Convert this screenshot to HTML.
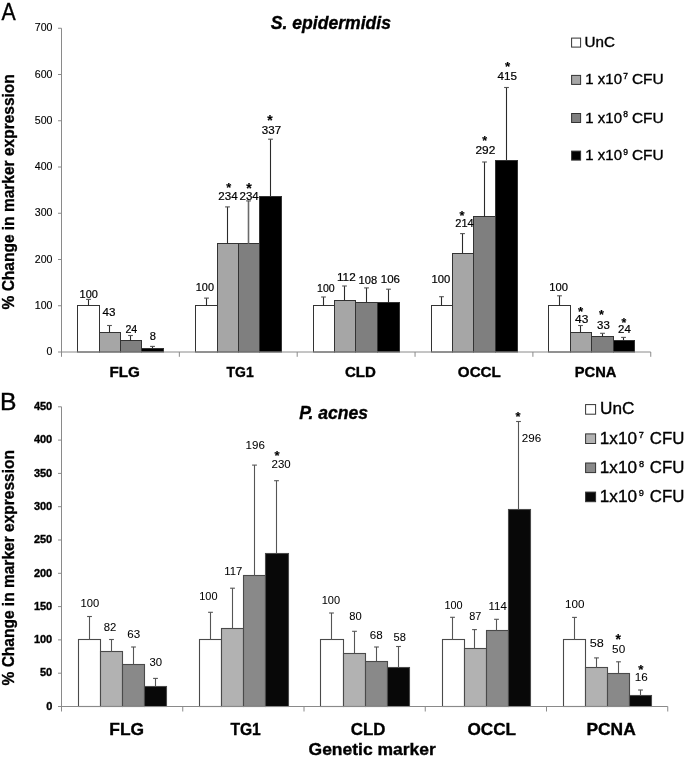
<!DOCTYPE html>
<html><head><meta charset="utf-8"><style>
html,body{margin:0;padding:0;background:#fff;}
svg{display:block;filter:grayscale(1);}
text{font-family:"Liberation Sans", sans-serif;stroke:#000;}
</style></head><body>
<svg width="685" height="760" viewBox="0 0 685 760" shape-rendering="auto" stroke-width="0.35">
<rect width="685" height="760" fill="#fff"/>
<rect x="77.50" y="305.50" width="22.00" height="46.50" fill="#ffffff" stroke="#333" stroke-width="1"/>
<rect x="99.50" y="332.50" width="21.00" height="19.50" fill="#a6a6a6" stroke="#333" stroke-width="1"/>
<rect x="120.50" y="340.50" width="21.00" height="11.50" fill="#7f7f7f" stroke="#333" stroke-width="1"/>
<rect x="141.50" y="348.50" width="22.00" height="3.50" fill="#000000" stroke="#333" stroke-width="1"/>
<rect x="195.50" y="305.50" width="22.00" height="46.50" fill="#ffffff" stroke="#333" stroke-width="1"/>
<rect x="217.50" y="243.50" width="21.00" height="108.50" fill="#a6a6a6" stroke="#333" stroke-width="1"/>
<rect x="238.50" y="243.50" width="21.00" height="108.50" fill="#7f7f7f" stroke="#333" stroke-width="1"/>
<rect x="259.50" y="196.50" width="22.00" height="155.50" fill="#000000" stroke="#333" stroke-width="1"/>
<rect x="313.50" y="305.50" width="21.00" height="46.50" fill="#ffffff" stroke="#333" stroke-width="1"/>
<rect x="334.50" y="300.50" width="21.00" height="51.50" fill="#a6a6a6" stroke="#333" stroke-width="1"/>
<rect x="355.50" y="302.50" width="22.00" height="49.50" fill="#7f7f7f" stroke="#333" stroke-width="1"/>
<rect x="377.50" y="302.50" width="22.00" height="49.50" fill="#000000" stroke="#333" stroke-width="1"/>
<rect x="431.50" y="305.50" width="21.00" height="46.50" fill="#ffffff" stroke="#333" stroke-width="1"/>
<rect x="452.50" y="253.50" width="21.00" height="98.50" fill="#a6a6a6" stroke="#333" stroke-width="1"/>
<rect x="473.50" y="216.50" width="22.00" height="135.50" fill="#7f7f7f" stroke="#333" stroke-width="1"/>
<rect x="495.50" y="160.50" width="22.00" height="191.50" fill="#000000" stroke="#333" stroke-width="1"/>
<rect x="548.50" y="305.50" width="22.00" height="46.50" fill="#ffffff" stroke="#333" stroke-width="1"/>
<rect x="570.50" y="332.50" width="21.00" height="19.50" fill="#a6a6a6" stroke="#333" stroke-width="1"/>
<rect x="591.50" y="336.50" width="22.00" height="15.50" fill="#7f7f7f" stroke="#333" stroke-width="1"/>
<rect x="613.50" y="340.50" width="21.00" height="11.50" fill="#000000" stroke="#333" stroke-width="1"/>
<line x1="88.50" y1="305.75" x2="88.50" y2="299.40" stroke="#2a2a2a" stroke-width="1.1"/>
<line x1="86.10" y1="299.40" x2="90.90" y2="299.40" stroke="#555" stroke-width="1.1"/>
<line x1="109.50" y1="332.11" x2="109.50" y2="325.50" stroke="#2a2a2a" stroke-width="1.1"/>
<line x1="107.10" y1="325.50" x2="111.90" y2="325.50" stroke="#555" stroke-width="1.1"/>
<line x1="130.50" y1="340.90" x2="130.50" y2="335.50" stroke="#2a2a2a" stroke-width="1.1"/>
<line x1="128.10" y1="335.50" x2="132.90" y2="335.50" stroke="#555" stroke-width="1.1"/>
<line x1="152.50" y1="348.30" x2="152.50" y2="346.40" stroke="#2a2a2a" stroke-width="1.1"/>
<line x1="150.10" y1="346.40" x2="154.90" y2="346.40" stroke="#555" stroke-width="1.1"/>
<line x1="206.50" y1="305.75" x2="206.50" y2="298.10" stroke="#2a2a2a" stroke-width="1.1"/>
<line x1="204.10" y1="298.10" x2="208.90" y2="298.10" stroke="#555" stroke-width="1.1"/>
<line x1="227.50" y1="243.77" x2="227.50" y2="206.90" stroke="#2a2a2a" stroke-width="1.1"/>
<line x1="225.10" y1="206.90" x2="229.90" y2="206.90" stroke="#555" stroke-width="1.1"/>
<line x1="248.50" y1="243.77" x2="248.50" y2="200.90" stroke="#6a6a6a" stroke-width="1.6"/>
<line x1="246.10" y1="200.90" x2="250.90" y2="200.90" stroke="#555" stroke-width="1.1"/>
<line x1="270.50" y1="196.14" x2="270.50" y2="139.20" stroke="#2a2a2a" stroke-width="1.1"/>
<line x1="268.10" y1="139.20" x2="272.90" y2="139.20" stroke="#555" stroke-width="1.1"/>
<line x1="323.50" y1="305.75" x2="323.50" y2="297.00" stroke="#2a2a2a" stroke-width="1.1"/>
<line x1="321.10" y1="297.00" x2="325.90" y2="297.00" stroke="#555" stroke-width="1.1"/>
<line x1="344.50" y1="300.20" x2="344.50" y2="286.00" stroke="#2a2a2a" stroke-width="1.1"/>
<line x1="342.10" y1="286.00" x2="346.90" y2="286.00" stroke="#555" stroke-width="1.1"/>
<line x1="366.50" y1="302.05" x2="366.50" y2="287.90" stroke="#2a2a2a" stroke-width="1.1"/>
<line x1="364.10" y1="287.90" x2="368.90" y2="287.90" stroke="#555" stroke-width="1.1"/>
<line x1="388.50" y1="302.98" x2="388.50" y2="289.20" stroke="#2a2a2a" stroke-width="1.1"/>
<line x1="386.10" y1="289.20" x2="390.90" y2="289.20" stroke="#555" stroke-width="1.1"/>
<line x1="441.50" y1="305.75" x2="441.50" y2="296.70" stroke="#2a2a2a" stroke-width="1.1"/>
<line x1="439.10" y1="296.70" x2="443.90" y2="296.70" stroke="#555" stroke-width="1.1"/>
<line x1="462.50" y1="253.02" x2="462.50" y2="233.60" stroke="#2a2a2a" stroke-width="1.1"/>
<line x1="460.10" y1="233.60" x2="464.90" y2="233.60" stroke="#555" stroke-width="1.1"/>
<line x1="484.50" y1="216.95" x2="484.50" y2="162.00" stroke="#2a2a2a" stroke-width="1.1"/>
<line x1="482.10" y1="162.00" x2="486.90" y2="162.00" stroke="#555" stroke-width="1.1"/>
<line x1="506.50" y1="160.06" x2="506.50" y2="87.50" stroke="#2a2a2a" stroke-width="1.1"/>
<line x1="504.10" y1="87.50" x2="508.90" y2="87.50" stroke="#555" stroke-width="1.1"/>
<line x1="559.50" y1="305.75" x2="559.50" y2="295.80" stroke="#2a2a2a" stroke-width="1.1"/>
<line x1="557.10" y1="295.80" x2="561.90" y2="295.80" stroke="#555" stroke-width="1.1"/>
<line x1="580.50" y1="332.11" x2="580.50" y2="325.50" stroke="#2a2a2a" stroke-width="1.1"/>
<line x1="578.10" y1="325.50" x2="582.90" y2="325.50" stroke="#555" stroke-width="1.1"/>
<line x1="602.50" y1="336.74" x2="602.50" y2="333.30" stroke="#2a2a2a" stroke-width="1.1"/>
<line x1="600.10" y1="333.30" x2="604.90" y2="333.30" stroke="#555" stroke-width="1.1"/>
<line x1="623.50" y1="340.90" x2="623.50" y2="337.40" stroke="#2a2a2a" stroke-width="1.1"/>
<line x1="621.10" y1="337.40" x2="625.90" y2="337.40" stroke="#555" stroke-width="1.1"/>
<rect x="78.50" y="639.50" width="22.00" height="67.00" fill="#ffffff" stroke="#4a4a4a" stroke-width="1.1"/>
<rect x="100.50" y="651.50" width="22.00" height="55.00" fill="#b2b2b2" stroke="#4a4a4a" stroke-width="1.1"/>
<rect x="122.50" y="664.50" width="22.00" height="42.00" fill="#898989" stroke="#4a4a4a" stroke-width="1.1"/>
<rect x="144.50" y="686.50" width="22.00" height="20.00" fill="#080808" stroke="#4a4a4a" stroke-width="1.1"/>
<rect x="199.50" y="639.50" width="22.00" height="67.00" fill="#ffffff" stroke="#4a4a4a" stroke-width="1.1"/>
<rect x="221.50" y="628.50" width="22.00" height="78.00" fill="#b2b2b2" stroke="#4a4a4a" stroke-width="1.1"/>
<rect x="243.50" y="575.50" width="22.00" height="131.00" fill="#898989" stroke="#4a4a4a" stroke-width="1.1"/>
<rect x="265.50" y="553.50" width="23.00" height="153.00" fill="#080808" stroke="#4a4a4a" stroke-width="1.1"/>
<rect x="320.50" y="639.50" width="23.00" height="67.00" fill="#ffffff" stroke="#4a4a4a" stroke-width="1.1"/>
<rect x="343.50" y="653.50" width="22.00" height="53.00" fill="#b2b2b2" stroke="#4a4a4a" stroke-width="1.1"/>
<rect x="365.50" y="661.50" width="22.00" height="45.00" fill="#898989" stroke="#4a4a4a" stroke-width="1.1"/>
<rect x="387.50" y="667.50" width="22.00" height="39.00" fill="#080808" stroke="#4a4a4a" stroke-width="1.1"/>
<rect x="442.50" y="639.50" width="22.00" height="67.00" fill="#ffffff" stroke="#4a4a4a" stroke-width="1.1"/>
<rect x="464.50" y="648.50" width="22.00" height="58.00" fill="#b2b2b2" stroke="#4a4a4a" stroke-width="1.1"/>
<rect x="486.50" y="630.50" width="22.00" height="76.00" fill="#898989" stroke="#4a4a4a" stroke-width="1.1"/>
<rect x="508.50" y="509.50" width="22.00" height="197.00" fill="#080808" stroke="#4a4a4a" stroke-width="1.1"/>
<rect x="563.50" y="639.50" width="22.00" height="67.00" fill="#ffffff" stroke="#4a4a4a" stroke-width="1.1"/>
<rect x="585.50" y="667.50" width="22.00" height="39.00" fill="#b2b2b2" stroke="#4a4a4a" stroke-width="1.1"/>
<rect x="607.50" y="673.50" width="22.00" height="33.00" fill="#898989" stroke="#4a4a4a" stroke-width="1.1"/>
<rect x="629.50" y="695.50" width="22.00" height="11.00" fill="#080808" stroke="#4a4a4a" stroke-width="1.1"/>
<line x1="89.50" y1="639.90" x2="89.50" y2="616.50" stroke="#555" stroke-width="1.1"/>
<line x1="87.10" y1="616.50" x2="91.90" y2="616.50" stroke="#555" stroke-width="1.1"/>
<line x1="111.50" y1="651.89" x2="111.50" y2="639.50" stroke="#555" stroke-width="1.1"/>
<line x1="109.10" y1="639.50" x2="113.90" y2="639.50" stroke="#555" stroke-width="1.1"/>
<line x1="133.50" y1="664.54" x2="133.50" y2="647.00" stroke="#555" stroke-width="1.1"/>
<line x1="131.10" y1="647.00" x2="135.90" y2="647.00" stroke="#555" stroke-width="1.1"/>
<line x1="155.50" y1="686.52" x2="155.50" y2="678.40" stroke="#555" stroke-width="1.1"/>
<line x1="153.10" y1="678.40" x2="157.90" y2="678.40" stroke="#555" stroke-width="1.1"/>
<line x1="210.50" y1="639.90" x2="210.50" y2="612.30" stroke="#555" stroke-width="1.1"/>
<line x1="208.10" y1="612.30" x2="212.90" y2="612.30" stroke="#555" stroke-width="1.1"/>
<line x1="232.50" y1="628.58" x2="232.50" y2="588.20" stroke="#555" stroke-width="1.1"/>
<line x1="230.10" y1="588.20" x2="234.90" y2="588.20" stroke="#555" stroke-width="1.1"/>
<line x1="254.50" y1="575.96" x2="254.50" y2="465.10" stroke="#555" stroke-width="1.1"/>
<line x1="252.10" y1="465.10" x2="256.90" y2="465.10" stroke="#555" stroke-width="1.1"/>
<line x1="276.50" y1="553.32" x2="276.50" y2="480.70" stroke="#555" stroke-width="1.1"/>
<line x1="274.10" y1="480.70" x2="278.90" y2="480.70" stroke="#555" stroke-width="1.1"/>
<line x1="331.50" y1="639.90" x2="331.50" y2="613.00" stroke="#555" stroke-width="1.1"/>
<line x1="329.10" y1="613.00" x2="333.90" y2="613.00" stroke="#555" stroke-width="1.1"/>
<line x1="354.50" y1="653.22" x2="354.50" y2="631.30" stroke="#555" stroke-width="1.1"/>
<line x1="352.10" y1="631.30" x2="356.90" y2="631.30" stroke="#555" stroke-width="1.1"/>
<line x1="376.50" y1="661.21" x2="376.50" y2="647.00" stroke="#555" stroke-width="1.1"/>
<line x1="374.10" y1="647.00" x2="378.90" y2="647.00" stroke="#555" stroke-width="1.1"/>
<line x1="398.50" y1="667.87" x2="398.50" y2="646.50" stroke="#555" stroke-width="1.1"/>
<line x1="396.10" y1="646.50" x2="400.90" y2="646.50" stroke="#555" stroke-width="1.1"/>
<line x1="452.50" y1="639.90" x2="452.50" y2="617.30" stroke="#555" stroke-width="1.1"/>
<line x1="450.10" y1="617.30" x2="454.90" y2="617.30" stroke="#555" stroke-width="1.1"/>
<line x1="474.50" y1="648.56" x2="474.50" y2="629.60" stroke="#555" stroke-width="1.1"/>
<line x1="472.10" y1="629.60" x2="476.90" y2="629.60" stroke="#555" stroke-width="1.1"/>
<line x1="496.50" y1="630.58" x2="496.50" y2="619.30" stroke="#555" stroke-width="1.1"/>
<line x1="494.10" y1="619.30" x2="498.90" y2="619.30" stroke="#555" stroke-width="1.1"/>
<line x1="518.50" y1="509.36" x2="518.50" y2="421.50" stroke="#555" stroke-width="1.1"/>
<line x1="516.10" y1="421.50" x2="520.90" y2="421.50" stroke="#555" stroke-width="1.1"/>
<line x1="574.50" y1="639.90" x2="574.50" y2="617.40" stroke="#555" stroke-width="1.1"/>
<line x1="572.10" y1="617.40" x2="576.90" y2="617.40" stroke="#555" stroke-width="1.1"/>
<line x1="596.50" y1="667.87" x2="596.50" y2="657.90" stroke="#555" stroke-width="1.1"/>
<line x1="594.10" y1="657.90" x2="598.90" y2="657.90" stroke="#555" stroke-width="1.1"/>
<line x1="618.50" y1="673.20" x2="618.50" y2="661.80" stroke="#555" stroke-width="1.1"/>
<line x1="616.10" y1="661.80" x2="620.90" y2="661.80" stroke="#555" stroke-width="1.1"/>
<line x1="640.50" y1="695.84" x2="640.50" y2="690.00" stroke="#555" stroke-width="1.1"/>
<line x1="638.10" y1="690.00" x2="642.90" y2="690.00" stroke="#555" stroke-width="1.1"/>
<line x1="61.5" y1="28.25" x2="61.5" y2="356.80" stroke="#8a8a8a" stroke-width="1"/>
<line x1="61.5" y1="352.0" x2="650.75" y2="352.0" stroke="#8a8a8a" stroke-width="1"/>
<line x1="58.0" y1="352.00" x2="61.5" y2="352.00" stroke="#8a8a8a" stroke-width="1"/>
<line x1="58.0" y1="305.75" x2="61.5" y2="305.75" stroke="#8a8a8a" stroke-width="1"/>
<line x1="58.0" y1="259.50" x2="61.5" y2="259.50" stroke="#8a8a8a" stroke-width="1"/>
<line x1="58.0" y1="213.25" x2="61.5" y2="213.25" stroke="#8a8a8a" stroke-width="1"/>
<line x1="58.0" y1="167.00" x2="61.5" y2="167.00" stroke="#8a8a8a" stroke-width="1"/>
<line x1="58.0" y1="120.75" x2="61.5" y2="120.75" stroke="#8a8a8a" stroke-width="1"/>
<line x1="58.0" y1="74.50" x2="61.5" y2="74.50" stroke="#8a8a8a" stroke-width="1"/>
<line x1="58.0" y1="28.25" x2="61.5" y2="28.25" stroke="#8a8a8a" stroke-width="1"/>
<line x1="179.35" y1="352.0" x2="179.35" y2="356.80" stroke="#8a8a8a" stroke-width="1"/>
<line x1="297.20" y1="352.0" x2="297.20" y2="356.80" stroke="#8a8a8a" stroke-width="1"/>
<line x1="415.05" y1="352.0" x2="415.05" y2="356.80" stroke="#8a8a8a" stroke-width="1"/>
<line x1="532.90" y1="352.0" x2="532.90" y2="356.80" stroke="#8a8a8a" stroke-width="1"/>
<line x1="650.75" y1="352.0" x2="650.75" y2="356.80" stroke="#8a8a8a" stroke-width="1"/>
<line x1="61.5" y1="406.80" x2="61.5" y2="711.50" stroke="#8a8a8a" stroke-width="1"/>
<line x1="61.5" y1="706.5" x2="667.75" y2="706.5" stroke="#8a8a8a" stroke-width="1"/>
<line x1="58.0" y1="706.50" x2="61.5" y2="706.50" stroke="#8a8a8a" stroke-width="1"/>
<line x1="58.0" y1="673.20" x2="61.5" y2="673.20" stroke="#8a8a8a" stroke-width="1"/>
<line x1="58.0" y1="639.90" x2="61.5" y2="639.90" stroke="#8a8a8a" stroke-width="1"/>
<line x1="58.0" y1="606.60" x2="61.5" y2="606.60" stroke="#8a8a8a" stroke-width="1"/>
<line x1="58.0" y1="573.30" x2="61.5" y2="573.30" stroke="#8a8a8a" stroke-width="1"/>
<line x1="58.0" y1="540.00" x2="61.5" y2="540.00" stroke="#8a8a8a" stroke-width="1"/>
<line x1="58.0" y1="506.70" x2="61.5" y2="506.70" stroke="#8a8a8a" stroke-width="1"/>
<line x1="58.0" y1="473.40" x2="61.5" y2="473.40" stroke="#8a8a8a" stroke-width="1"/>
<line x1="58.0" y1="440.10" x2="61.5" y2="440.10" stroke="#8a8a8a" stroke-width="1"/>
<line x1="58.0" y1="406.80" x2="61.5" y2="406.80" stroke="#8a8a8a" stroke-width="1"/>
<line x1="182.75" y1="706.5" x2="182.75" y2="711.50" stroke="#8a8a8a" stroke-width="1"/>
<line x1="304.00" y1="706.5" x2="304.00" y2="711.50" stroke="#8a8a8a" stroke-width="1"/>
<line x1="425.25" y1="706.5" x2="425.25" y2="711.50" stroke="#8a8a8a" stroke-width="1"/>
<line x1="546.50" y1="706.5" x2="546.50" y2="711.50" stroke="#8a8a8a" stroke-width="1"/>
<line x1="667.75" y1="706.5" x2="667.75" y2="711.50" stroke="#8a8a8a" stroke-width="1"/>
<rect x="571.6" y="38.10" width="9" height="9" fill="#ffffff" stroke="#333" stroke-width="1"/>
<rect x="571.6" y="75.40" width="9" height="9" fill="#a6a6a6" stroke="#333" stroke-width="1"/>
<rect x="571.6" y="113.50" width="9" height="9" fill="#7f7f7f" stroke="#333" stroke-width="1"/>
<rect x="571.6" y="151.10" width="9" height="9" fill="#000000" stroke="#333" stroke-width="1"/>
<rect x="585.6" y="404.60" width="10" height="9.6" fill="#ffffff" stroke="#333" stroke-width="1"/>
<rect x="585.6" y="433.90" width="10" height="9.6" fill="#b2b2b2" stroke="#333" stroke-width="1"/>
<rect x="585.6" y="463.00" width="10" height="9.6" fill="#898989" stroke="#333" stroke-width="1"/>
<rect x="585.6" y="492.10" width="10" height="9.6" fill="#080808" stroke="#333" stroke-width="1"/>
<text x="1.40" y="20.40" font-size="23" font-weight="normal" font-style="normal" textLength="14.20" lengthAdjust="spacingAndGlyphs" fill="#000">A</text>
<text x="-0.03" y="410.00" font-size="23.5" font-weight="normal" font-style="normal" textLength="16.47" lengthAdjust="spacingAndGlyphs" fill="#000">B</text>
<text x="270.80" y="29.00" font-size="17.5" font-weight="bold" font-style="italic" textLength="120.24" lengthAdjust="spacingAndGlyphs" fill="#000">S. epidermidis</text>
<text x="299.13" y="419.20" font-size="17.5" font-weight="bold" font-style="italic" textLength="69.01" lengthAdjust="spacingAndGlyphs" fill="#000">P. acnes</text>
<text x="46.57" y="355.00" font-size="10.6" font-weight="normal" font-style="normal" textLength="5.90" lengthAdjust="spacingAndGlyphs" fill="#000" stroke-width="0.12">0</text>
<text x="34.78" y="308.75" font-size="10.6" font-weight="normal" font-style="normal" textLength="17.69" lengthAdjust="spacingAndGlyphs" fill="#000" stroke-width="0.12">100</text>
<text x="34.78" y="262.50" font-size="10.6" font-weight="normal" font-style="normal" textLength="17.69" lengthAdjust="spacingAndGlyphs" fill="#000" stroke-width="0.12">200</text>
<text x="34.78" y="216.25" font-size="10.6" font-weight="normal" font-style="normal" textLength="17.69" lengthAdjust="spacingAndGlyphs" fill="#000" stroke-width="0.12">300</text>
<text x="34.78" y="170.00" font-size="10.6" font-weight="normal" font-style="normal" textLength="17.69" lengthAdjust="spacingAndGlyphs" fill="#000" stroke-width="0.12">400</text>
<text x="34.78" y="123.75" font-size="10.6" font-weight="normal" font-style="normal" textLength="17.69" lengthAdjust="spacingAndGlyphs" fill="#000" stroke-width="0.12">500</text>
<text x="34.78" y="77.50" font-size="10.6" font-weight="normal" font-style="normal" textLength="17.69" lengthAdjust="spacingAndGlyphs" fill="#000" stroke-width="0.12">600</text>
<text x="34.78" y="31.25" font-size="10.6" font-weight="normal" font-style="normal" textLength="17.69" lengthAdjust="spacingAndGlyphs" fill="#000" stroke-width="0.12">700</text>
<text x="46.13" y="709.70" font-size="11" font-weight="bold" font-style="normal" textLength="6.12" lengthAdjust="spacingAndGlyphs" fill="#000">0</text>
<text x="40.01" y="676.40" font-size="11" font-weight="bold" font-style="normal" textLength="12.24" lengthAdjust="spacingAndGlyphs" fill="#000">50</text>
<text x="33.89" y="643.10" font-size="11" font-weight="bold" font-style="normal" textLength="18.35" lengthAdjust="spacingAndGlyphs" fill="#000">100</text>
<text x="33.89" y="609.80" font-size="11" font-weight="bold" font-style="normal" textLength="18.35" lengthAdjust="spacingAndGlyphs" fill="#000">150</text>
<text x="33.89" y="576.50" font-size="11" font-weight="bold" font-style="normal" textLength="18.35" lengthAdjust="spacingAndGlyphs" fill="#000">200</text>
<text x="33.89" y="543.20" font-size="11" font-weight="bold" font-style="normal" textLength="18.35" lengthAdjust="spacingAndGlyphs" fill="#000">250</text>
<text x="33.89" y="509.90" font-size="11" font-weight="bold" font-style="normal" textLength="18.35" lengthAdjust="spacingAndGlyphs" fill="#000">300</text>
<text x="33.89" y="476.60" font-size="11" font-weight="bold" font-style="normal" textLength="18.35" lengthAdjust="spacingAndGlyphs" fill="#000">350</text>
<text x="33.89" y="443.30" font-size="11" font-weight="bold" font-style="normal" textLength="18.35" lengthAdjust="spacingAndGlyphs" fill="#000">400</text>
<text x="33.89" y="410.00" font-size="11" font-weight="bold" font-style="normal" textLength="18.35" lengthAdjust="spacingAndGlyphs" fill="#000">450</text>
<text x="109.45" y="377.00" font-size="14.5" font-weight="bold" font-style="normal" textLength="30.45" lengthAdjust="spacingAndGlyphs" fill="#000">FLG</text>
<text x="226.50" y="377.00" font-size="14.5" font-weight="bold" font-style="normal" textLength="27.15" lengthAdjust="spacingAndGlyphs" fill="#000">TG1</text>
<text x="344.93" y="377.00" font-size="14.5" font-weight="bold" font-style="normal" textLength="30.89" lengthAdjust="spacingAndGlyphs" fill="#000">CLD</text>
<text x="457.83" y="377.00" font-size="14.5" font-weight="bold" font-style="normal" textLength="43.03" lengthAdjust="spacingAndGlyphs" fill="#000">OCCL</text>
<text x="574.78" y="377.00" font-size="14.5" font-weight="bold" font-style="normal" textLength="41.70" lengthAdjust="spacingAndGlyphs" fill="#000">PCNA</text>
<text x="109.32" y="734.70" font-size="16.5" font-weight="bold" font-style="normal" textLength="34.71" lengthAdjust="spacingAndGlyphs" fill="#000">FLG</text>
<text x="230.40" y="734.70" font-size="16.5" font-weight="bold" font-style="normal" textLength="30.39" lengthAdjust="spacingAndGlyphs" fill="#000">TG1</text>
<text x="350.87" y="734.70" font-size="16.5" font-weight="bold" font-style="normal" textLength="34.61" lengthAdjust="spacingAndGlyphs" fill="#000">CLD</text>
<text x="467.46" y="734.70" font-size="16.5" font-weight="bold" font-style="normal" textLength="48.63" lengthAdjust="spacingAndGlyphs" fill="#000">OCCL</text>
<text x="586.41" y="734.70" font-size="16.5" font-weight="bold" font-style="normal" textLength="49.32" lengthAdjust="spacingAndGlyphs" fill="#000">PCNA</text>
<text x="308.55" y="755.00" font-size="16.8" font-weight="bold" font-style="normal" textLength="127.29" lengthAdjust="spacingAndGlyphs" fill="#000">Genetic marker</text>
<text x="584.55" y="47.00" font-size="14.5" font-weight="normal" font-style="normal" textLength="30.38" lengthAdjust="spacingAndGlyphs" fill="#000">UnC</text>
<text x="585.36" y="84.40" font-size="14.5" font-weight="normal" font-style="normal" textLength="36.61" lengthAdjust="spacingAndGlyphs" fill="#000">1 x10</text>
<text x="623.20" y="79.10" font-size="8.5" font-weight="normal" font-style="normal" textLength="4.73" lengthAdjust="spacingAndGlyphs" fill="#000">7</text>
<text x="631.98" y="84.40" font-size="14.5" font-weight="normal" font-style="normal" textLength="31.64" lengthAdjust="spacingAndGlyphs" fill="#000">CFU</text>
<text x="585.36" y="122.70" font-size="14.5" font-weight="normal" font-style="normal" textLength="36.61" lengthAdjust="spacingAndGlyphs" fill="#000">1 x10</text>
<text x="623.33" y="117.40" font-size="8.5" font-weight="normal" font-style="normal" textLength="4.73" lengthAdjust="spacingAndGlyphs" fill="#000">8</text>
<text x="631.98" y="122.70" font-size="14.5" font-weight="normal" font-style="normal" textLength="31.64" lengthAdjust="spacingAndGlyphs" fill="#000">CFU</text>
<text x="585.36" y="160.30" font-size="14.5" font-weight="normal" font-style="normal" textLength="36.61" lengthAdjust="spacingAndGlyphs" fill="#000">1 x10</text>
<text x="623.20" y="155.00" font-size="8.5" font-weight="normal" font-style="normal" textLength="4.73" lengthAdjust="spacingAndGlyphs" fill="#000">9</text>
<text x="631.98" y="160.30" font-size="14.5" font-weight="normal" font-style="normal" textLength="31.64" lengthAdjust="spacingAndGlyphs" fill="#000">CFU</text>
<text x="600.13" y="414.40" font-size="16.8" font-weight="normal" font-style="normal" textLength="34.37" lengthAdjust="spacingAndGlyphs" fill="#000">UnC</text>
<text x="599.83" y="443.70" font-size="16.8" font-weight="normal" font-style="normal" textLength="37.20" lengthAdjust="spacingAndGlyphs" fill="#000">1x10</text>
<text x="638.87" y="437.60" font-size="9.2" font-weight="normal" font-style="normal" textLength="5.12" lengthAdjust="spacingAndGlyphs" fill="#000">7</text>
<text x="649.81" y="443.70" font-size="16.8" font-weight="normal" font-style="normal" textLength="34.53" lengthAdjust="spacingAndGlyphs" fill="#000">CFU</text>
<text x="599.83" y="472.80" font-size="16.8" font-weight="normal" font-style="normal" textLength="37.20" lengthAdjust="spacingAndGlyphs" fill="#000">1x10</text>
<text x="639.01" y="466.70" font-size="9.2" font-weight="normal" font-style="normal" textLength="5.12" lengthAdjust="spacingAndGlyphs" fill="#000">8</text>
<text x="649.81" y="472.80" font-size="16.8" font-weight="normal" font-style="normal" textLength="34.53" lengthAdjust="spacingAndGlyphs" fill="#000">CFU</text>
<text x="599.83" y="501.90" font-size="16.8" font-weight="normal" font-style="normal" textLength="37.20" lengthAdjust="spacingAndGlyphs" fill="#000">1x10</text>
<text x="638.87" y="495.80" font-size="9.2" font-weight="normal" font-style="normal" textLength="5.12" lengthAdjust="spacingAndGlyphs" fill="#000">9</text>
<text x="649.81" y="501.90" font-size="16.8" font-weight="normal" font-style="normal" textLength="34.53" lengthAdjust="spacingAndGlyphs" fill="#000">CFU</text>
<text x="79.62" y="297.50" font-size="11" font-weight="normal" font-style="normal" textLength="18.26" lengthAdjust="spacingAndGlyphs" fill="#000" stroke-width="0.2">100</text>
<text x="102.62" y="315.80" font-size="11" font-weight="normal" font-style="normal" textLength="12.95" lengthAdjust="spacingAndGlyphs" fill="#000" stroke-width="0.2">43</text>
<text x="125.40" y="332.60" font-size="11" font-weight="normal" font-style="normal" textLength="11.87" lengthAdjust="spacingAndGlyphs" fill="#000" stroke-width="0.2">24</text>
<text x="149.65" y="339.90" font-size="11" font-weight="normal" font-style="normal" textLength="6.20" lengthAdjust="spacingAndGlyphs" fill="#000" stroke-width="0.2">8</text>
<text x="195.82" y="291.20" font-size="11" font-weight="normal" font-style="normal" textLength="18.15" lengthAdjust="spacingAndGlyphs" fill="#000" stroke-width="0.2">100</text>
<text x="218.26" y="200.00" font-size="11" font-weight="normal" font-style="normal" textLength="19.33" lengthAdjust="spacingAndGlyphs" fill="#000" stroke-width="0.2">234</text>
<text x="239.56" y="200.00" font-size="11" font-weight="normal" font-style="normal" textLength="19.23" lengthAdjust="spacingAndGlyphs" fill="#000" stroke-width="0.2">234</text>
<text x="261.84" y="133.90" font-size="11" font-weight="normal" font-style="normal" textLength="19.33" lengthAdjust="spacingAndGlyphs" fill="#000" stroke-width="0.2">337</text>
<text x="317.04" y="291.90" font-size="11" font-weight="normal" font-style="normal" textLength="17.62" lengthAdjust="spacingAndGlyphs" fill="#000" stroke-width="0.2">100</text>
<text x="336.97" y="281.00" font-size="11" font-weight="normal" font-style="normal" textLength="18.71" lengthAdjust="spacingAndGlyphs" fill="#000" stroke-width="0.2">112</text>
<text x="358.61" y="284.20" font-size="11" font-weight="normal" font-style="normal" textLength="18.55" lengthAdjust="spacingAndGlyphs" fill="#000" stroke-width="0.2">108</text>
<text x="380.78" y="283.10" font-size="11" font-weight="normal" font-style="normal" textLength="19.18" lengthAdjust="spacingAndGlyphs" fill="#000" stroke-width="0.2">106</text>
<text x="431.40" y="282.90" font-size="11" font-weight="normal" font-style="normal" textLength="18.78" lengthAdjust="spacingAndGlyphs" fill="#000" stroke-width="0.2">100</text>
<text x="455.28" y="226.90" font-size="11" font-weight="normal" font-style="normal" textLength="18.39" lengthAdjust="spacingAndGlyphs" fill="#000" stroke-width="0.2">214</text>
<text x="475.44" y="153.60" font-size="11" font-weight="normal" font-style="normal" textLength="19.84" lengthAdjust="spacingAndGlyphs" fill="#000" stroke-width="0.2">292</text>
<text x="497.52" y="79.50" font-size="11" font-weight="normal" font-style="normal" textLength="19.45" lengthAdjust="spacingAndGlyphs" fill="#000" stroke-width="0.2">415</text>
<text x="549.20" y="291.00" font-size="11" font-weight="normal" font-style="normal" textLength="18.68" lengthAdjust="spacingAndGlyphs" fill="#000" stroke-width="0.2">100</text>
<text x="575.11" y="323.20" font-size="11" font-weight="normal" font-style="normal" textLength="13.27" lengthAdjust="spacingAndGlyphs" fill="#000" stroke-width="0.2">43</text>
<text x="597.04" y="328.70" font-size="11" font-weight="normal" font-style="normal" textLength="12.72" lengthAdjust="spacingAndGlyphs" fill="#000" stroke-width="0.2">33</text>
<text x="618.06" y="332.50" font-size="11" font-weight="normal" font-style="normal" textLength="12.72" lengthAdjust="spacingAndGlyphs" fill="#000" stroke-width="0.2">24</text>
<text x="80.60" y="607.30" font-size="11" font-weight="normal" font-style="normal" textLength="18.68" lengthAdjust="spacingAndGlyphs" fill="#000" stroke-width="0.05">100</text>
<text x="103.75" y="631.30" font-size="11" font-weight="normal" font-style="normal" textLength="12.61" lengthAdjust="spacingAndGlyphs" fill="#000" stroke-width="0.05">82</text>
<text x="127.36" y="637.90" font-size="11" font-weight="normal" font-style="normal" textLength="12.91" lengthAdjust="spacingAndGlyphs" fill="#000" stroke-width="0.05">63</text>
<text x="149.54" y="665.50" font-size="11" font-weight="normal" font-style="normal" textLength="12.64" lengthAdjust="spacingAndGlyphs" fill="#000" stroke-width="0.05">30</text>
<text x="199.22" y="599.50" font-size="11" font-weight="normal" font-style="normal" textLength="18.26" lengthAdjust="spacingAndGlyphs" fill="#000" stroke-width="0.05">100</text>
<text x="224.29" y="575.20" font-size="11" font-weight="normal" font-style="normal" textLength="18.07" lengthAdjust="spacingAndGlyphs" fill="#000" stroke-width="0.05">117</text>
<text x="245.58" y="449.00" font-size="11" font-weight="normal" font-style="normal" textLength="19.29" lengthAdjust="spacingAndGlyphs" fill="#000" stroke-width="0.05">196</text>
<text x="271.56" y="467.90" font-size="11" font-weight="normal" font-style="normal" textLength="19.12" lengthAdjust="spacingAndGlyphs" fill="#000" stroke-width="0.05">230</text>
<text x="321.71" y="604.00" font-size="11" font-weight="normal" font-style="normal" textLength="18.36" lengthAdjust="spacingAndGlyphs" fill="#000" stroke-width="0.05">100</text>
<text x="349.35" y="619.70" font-size="11" font-weight="normal" font-style="normal" textLength="12.43" lengthAdjust="spacingAndGlyphs" fill="#000" stroke-width="0.05">80</text>
<text x="369.76" y="639.00" font-size="11" font-weight="normal" font-style="normal" textLength="12.91" lengthAdjust="spacingAndGlyphs" fill="#000" stroke-width="0.05">68</text>
<text x="393.55" y="641.40" font-size="11" font-weight="normal" font-style="normal" textLength="12.40" lengthAdjust="spacingAndGlyphs" fill="#000" stroke-width="0.05">58</text>
<text x="444.52" y="608.70" font-size="11" font-weight="normal" font-style="normal" textLength="18.15" lengthAdjust="spacingAndGlyphs" fill="#000" stroke-width="0.05">100</text>
<text x="469.16" y="619.70" font-size="11" font-weight="normal" font-style="normal" textLength="12.08" lengthAdjust="spacingAndGlyphs" fill="#000" stroke-width="0.05">87</text>
<text x="488.59" y="609.90" font-size="11" font-weight="normal" font-style="normal" textLength="18.20" lengthAdjust="spacingAndGlyphs" fill="#000" stroke-width="0.05">114</text>
<text x="521.75" y="441.70" font-size="11" font-weight="normal" font-style="normal" textLength="19.42" lengthAdjust="spacingAndGlyphs" fill="#000" stroke-width="0.05">296</text>
<text x="564.97" y="608.20" font-size="11" font-weight="normal" font-style="normal" textLength="19.42" lengthAdjust="spacingAndGlyphs" fill="#000" stroke-width="0.05">100</text>
<text x="589.70" y="647.40" font-size="11" font-weight="normal" font-style="normal" textLength="14.11" lengthAdjust="spacingAndGlyphs" fill="#000" stroke-width="0.05">58</text>
<text x="612.13" y="652.60" font-size="11" font-weight="normal" font-style="normal" textLength="13.06" lengthAdjust="spacingAndGlyphs" fill="#000" stroke-width="0.05">50</text>
<text x="634.67" y="681.00" font-size="11" font-weight="normal" font-style="normal" textLength="13.00" lengthAdjust="spacingAndGlyphs" fill="#000" stroke-width="0.05">16</text>
<text x="226.30" y="192.40" font-size="12.80" font-weight="bold" stroke-width="0.15">*</text>
<text x="246.30" y="192.80" font-size="14.08" font-weight="bold" stroke-width="0.15">*</text>
<text x="267.30" y="125.22" font-size="13.82" font-weight="bold" stroke-width="0.15">*</text>
<text x="459.50" y="220.10" font-size="12.80" font-weight="bold" stroke-width="0.15">*</text>
<text x="482.20" y="144.62" font-size="12.54" font-weight="bold" stroke-width="0.15">*</text>
<text x="505.00" y="70.76" font-size="13.31" font-weight="bold" stroke-width="0.15">*</text>
<text x="577.90" y="316.06" font-size="13.31" font-weight="bold" stroke-width="0.15">*</text>
<text x="598.90" y="319.12" font-size="12.54" font-weight="bold" stroke-width="0.15">*</text>
<text x="621.50" y="327.14" font-size="12.29" font-weight="bold" stroke-width="0.15">*</text>
<text x="274.60" y="460.18" font-size="13.06" font-weight="bold" stroke-width="0.15">*</text>
<text x="515.60" y="421.30" font-size="12.80" font-weight="bold" stroke-width="0.15">*</text>
<text x="615.60" y="643.52" font-size="13.82" font-weight="bold" stroke-width="0.15">*</text>
<text x="638.20" y="674.36" font-size="13.31" font-weight="bold" stroke-width="0.15">*</text>
<text transform="translate(14.20,309.46) rotate(-90)" x="0" y="0" font-size="16.8" font-weight="bold" textLength="235.29" lengthAdjust="spacingAndGlyphs">% Change in marker expression</text>
<text transform="translate(13.90,685.46) rotate(-90)" x="0" y="0" font-size="16.8" font-weight="bold" textLength="235.39" lengthAdjust="spacingAndGlyphs">% Change in marker expression</text>
</svg></body></html>
